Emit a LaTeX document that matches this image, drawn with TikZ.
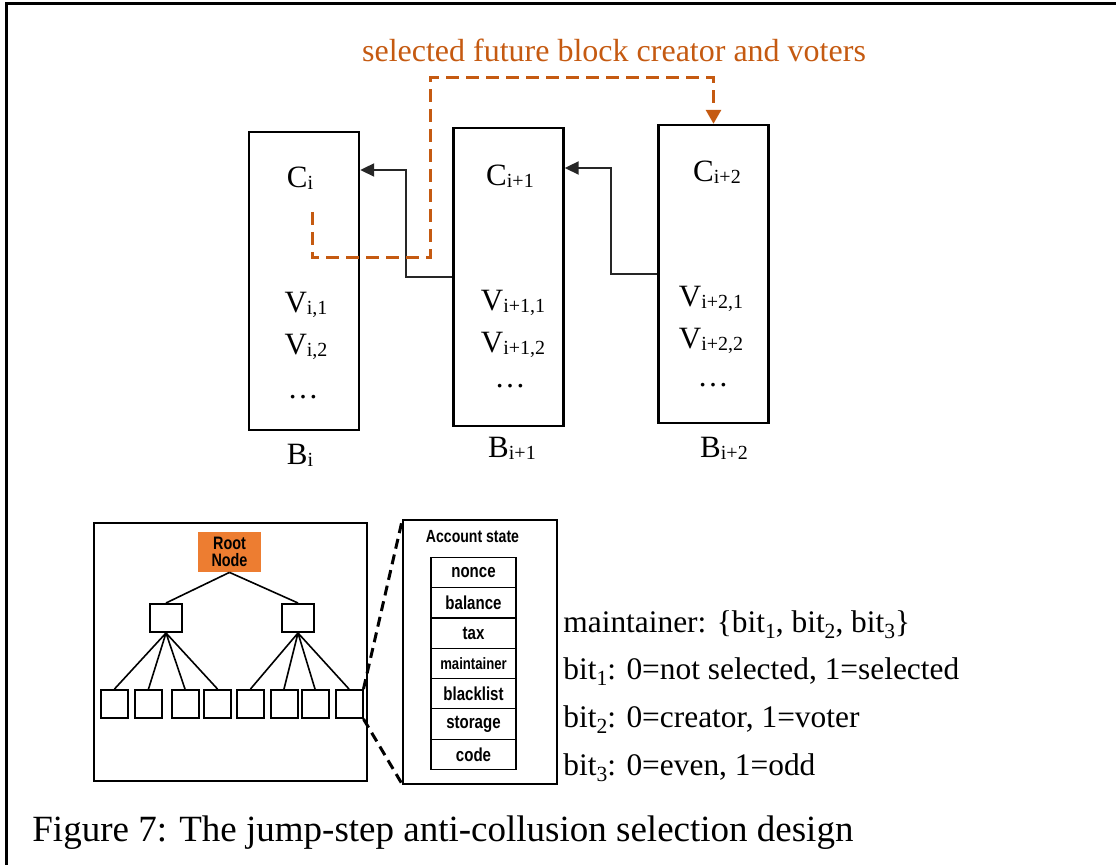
\documentclass[tikz,border=0pt]{standalone}
\usepackage{fontspec}
\setmainfont{Liberation Serif}
\newfontfamily\condfont{Liberation Sans Bold}[FakeStretch=0.8]
\usepackage{tikz}
\usetikzlibrary{positioning, arrows.meta}
\definecolor{selorange}{RGB}{197,90,17}
\definecolor{rootorange}{RGB}{237,125,49}
\newcommand{\lowsub}[1]{\raisebox{-1pt}{\fontsize{10}{10}\selectfont #1}}
\newcommand{\bitsub}[1]{\raisebox{-2.8pt}{\fontsize{10.8}{10.8}\selectfont #1}}
\tikzset{>={Triangle[length=7pt,width=6.5pt]},
  block/.style={draw, line width=1.2pt, minimum width=55pt, minimum height=149pt, inner sep=0pt},
  lbl/.style={anchor=base, font=\fontsize{15.5}{18}\selectfont},
  link/.style={->, draw=black!85, line width=1pt},
  sel/.style={-{Triangle[length=7pt,width=7.5pt]}, draw=selorange, line width=1.5pt, dash pattern=on 6.5pt off 3.5pt},
  panel/.style={draw, line width=0.6pt, inner sep=0pt},
  treenode/.style={draw, line width=1pt, minimum width=13.5pt, minimum height=14pt, inner sep=0pt},
  field/.style={draw, line width=0.6pt, minimum width=42.5pt, minimum height=15.15pt, inner sep=0pt, outer sep=0pt, font=\condfont\fontsize{9.4}{9.4}\selectfont},
  zoomline/.style={line width=1.5pt, dash pattern=on 5pt off 3pt},
  note/.style={anchor=base west, inner sep=0pt, font=\fontsize{15.7}{18}\selectfont}}

\begin{document}
\begin{tikzpicture}[x=0.5pt, y=-0.5pt]
\useasboundingbox (0,0) rectangle (1116,865);
\draw[line width=1.5pt] (6,865) -- (6,4) -- (1116,4);

\node[block] (Bi) at (304,281) {};
\node[block] (Bi1) at (508.5,277) {};
\node[block] (Bi2) at (713.5,274) {};

\node[lbl] (Ci) at (300,188) {C\lowsub{i}};
\node[lbl] (Vi1) at (306,313) {V\lowsub{i,1}};
\node[lbl] (Vi2) at (306,355) {V\lowsub{i,2}};
\node[lbl] (di) at (303,399) {\ldots};
\node[lbl] (bi) at (300,465) {B\lowsub{i}};

\node[lbl] (Ci1) at (510,186) {C\lowsub{i+1}};
\node[lbl] (Vi11) at (513,311) {V\lowsub{i+1,1}};
\node[lbl] (Vi12) at (513,353) {V\lowsub{i+1,2}};
\node[lbl] (di1) at (510,388) {\ldots};
\node[lbl] (bi1) at (512,458) {B\lowsub{i+1}};

\node[lbl] (Ci2) at (717,182) {C\lowsub{i+2}};
\node[lbl] (Vi21) at (711,307) {V\lowsub{i+2,1}};
\node[lbl] (Vi22) at (711,349) {V\lowsub{i+2,2}};
\node[lbl] (di2) at (713,387) {\ldots};
\node[lbl] (bi2) at (724,458) {B\lowsub{i+2}};

\coordinate (k1) at (406,170);
\coordinate (k2) at (611,168);
\draw[link] (Bi1.west) -| (k1) -- (k1 -| Bi.east);
\draw[link] (Bi2.west) -| (k2) -- (k2 -| Bi1.east);

\node[anchor=base, text=selorange, font=\fontsize{16}{18}\selectfont] (seltext) at (614,62) {selected future block creator and voters};
\coordinate (o1) at (312,212);
\coordinate (o2) at (430,258);
\coordinate (o3) at (713.5,78);
\draw[sel] (o1) |- (o2) |- (o3) -- (Bi2.north);

\node[panel, minimum width=136.5pt, minimum height=129pt] (tree) at (230.5,652) {};
\node[fill=rootorange, minimum width=31.5pt, minimum height=20pt, inner sep=0pt, align=center, font=\condfont\fontsize{9}{8.2}\selectfont] (root) at (229.5,552) {Root\\Node};
\node[treenode, minimum width=16pt] (m1) at (166,618) {};
\node[treenode, minimum width=16pt] (m2) at (298,618) {};
\node[treenode] (l1) at (114.5,704) {};
\node[treenode] (l2) at (148.5,704) {};
\node[treenode] (l3) at (185,704) {};
\node[treenode] (l4) at (217.5,704) {};
\node[treenode] (l5) at (250.5,704) {};
\node[treenode] (l6) at (284,704) {};
\node[treenode] (l7) at (315,704) {};
\node[treenode] (l8) at (349,704) {};
\draw[line width=0.8pt] (root.south) -- (m1.north);
\draw[line width=0.8pt] (root.south) -- (m2.north);
\draw[line width=0.8pt] (m1.south) -- (l1.north) (m1.south) -- (l2.north) (m1.south) -- (l3.north) (m1.south) -- (l4.north);
\draw[line width=0.8pt] (m2.south) -- (l5.north) (m2.south) -- (l6.north) (m2.south) -- (l7.north) (m2.south) -- (l8.north);

\node[panel, minimum width=77pt, minimum height=132pt] (acct) at (480,652) {};
\node[anchor=base, font=\condfont\fontsize{8.8}{9}\selectfont] (acctitle) at (472.5,543) {Account state};
\node[field] (f1) at (473.5,572.5) {nonce};
\node[field, below=0pt of f1] (f2) {balance};
\node[field, below=0pt of f2] (f3) {tax};
\node[field, below=0pt of f3, font=\condfont\fontsize{8.2}{8}\selectfont] (f4) {maintainer};
\node[field, below=0pt of f4] (f5) {blacklist};
\node[field, below=0pt of f5] (f6) {storage};
\node[field, below=0pt of f6] (f7) {code};
\draw[zoomline] (l8.north east) -- (acct.north west);
\draw[zoomline] (l8.south east) -- (acct.south west);

\node[note] (n1) at (563,633) {maintainer: \{bit\bitsub{1}, bit\bitsub{2}, bit\bitsub{3}\}};
\node[note] (n2) at (563,680) {bit\bitsub{1}: 0=not selected, 1=selected};
\node[note] (n3) at (563,728) {bit\bitsub{2}: 0=creator, 1=voter};
\node[note] (n4) at (563,776) {bit\bitsub{3}: 0=even, 1=odd};

\node[anchor=base west, inner sep=0pt, font=\fontsize{18.5}{22}\selectfont] (cap) at (32,842) {Figure 7: The jump-step anti-collusion selection design};
\end{tikzpicture}
\end{document}
